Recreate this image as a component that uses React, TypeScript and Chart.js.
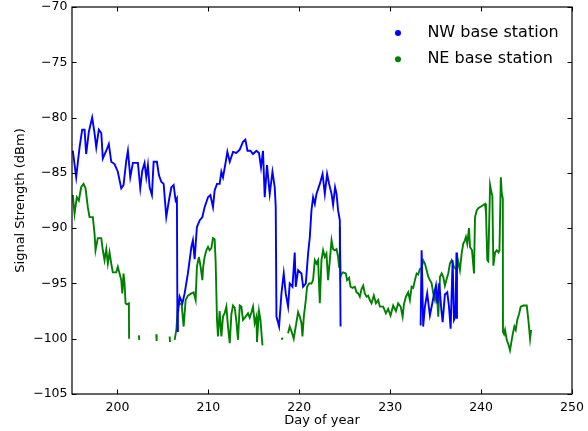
import React, { useEffect, useRef } from "react";
import { Chart, registerables } from "chart.js";
Chart.register(...registerables);

const xTicks = [200, 210, 220, 230, 240, 250];
const yTicks = [-105, -100, -95, -90, -85, -80, -75, -70];
const seriesLabels = ["NW base station", "NE base station"];
const seriesColors = ["#0000ff", "#008000"];

const nwDays = [
  195.09, 195.46, 195.83, 196.12, 196.38, 196.56, 196.85, 197.22, 197.48, 197.67,
  197.95, 198.22, 198.39, 198.77, 199.05, 199.32, 199.68, 200.04, 200.42, 200.67,
  200.97, 201.15, 201.41, 201.70, 202.25, 202.51, 202.73, 202.98, 203.17, 203.35,
  203.54, 203.79, 203.98, 204.34, 204.56, 204.82, 205.08, 205.37, 205.66, 205.93,
  206.18, 206.40, 206.54, 206.60, 206.65, 206.84, 207.14, 207.39, 207.75, 208.13,
  208.30, 208.49, 208.74, 209.04, 209.34, 209.59, 209.96, 210.22, 210.51, 210.69,
  210.95, 211.24, 211.43, 211.61, 211.87, 212.09, 212.35, 212.71, 213.08, 213.45,
  213.81, 214.07, 214.30, 214.63, 214.91, 215.29, 215.57, 215.79, 216.01, 216.20,
  216.45, 216.75, 217.05, 217.30, 217.41, 217.49, 217.78, 218.04, 218.29, 218.51,
  218.77, 218.95, 219.25, 219.50, 219.61, 219.87, 220.24, 220.42, 220.72, 220.97,
  221.16, 221.34, 221.52, 221.71, 221.89, 222.26, 222.56, 222.81, 223.06, 223.28,
  223.55, 223.72, 223.94, 224.10, 224.27, 224.46, 224.54, 229.0, 233.35, 233.46,
  233.63, 233.82, 234.07, 234.37, 234.63, 234.81, 235.03, 235.18, 235.40, 235.62,
  235.77, 236.02, 236.28, 236.46, 236.65, 236.87, 237.02, 237.18, 237.29, 237.35,
];
const nwValues = [
  -83.0, -85.4, -82.7, -81.1, -81.1, -83.3, -81.3, -80.0, -81.4, -82.7,
  -81.1, -81.4, -83.7, -83.0, -82.4, -84.0, -84.2, -84.9, -86.4, -86.1,
  -83.9, -83.0, -85.4, -84.1, -84.1, -86.4, -84.8, -84.1, -85.4, -84.3,
  -86.3, -87.0, -84.0, -84.0, -85.2, -85.8, -86.0, -89.0, -87.5, -86.3,
  -86.1, -87.5, -87.3, -99.3, -97.7, -96.2, -96.8, -95.9, -94.1, -91.7,
  -91.1, -92.8, -89.9, -89.3, -89.0, -88.1, -87.2, -87.0, -88.1, -86.6,
  -86.0, -86.0, -84.9, -85.4, -84.2, -83.1, -84.0, -83.1, -83.2, -82.9,
  -82.2, -82.0, -83.0, -83.0, -83.3, -83.0, -83.2, -84.5, -83.0, -87.2,
  -84.3, -86.9, -84.9, -86.3, -88.1, -98.0, -98.9, -95.9, -94.1, -95.9,
  -97.1, -95.0, -95.3, -92.2, -95.3, -93.8, -94.1, -95.3, -95.0, -92.3,
  -90.8, -88.4, -87.2, -87.8, -86.9, -86.0, -85.1, -86.9, -85.1, -86.0,
  -86.9, -87.9, -86.3, -86.9, -88.4, -89.3, -98.9, null, -98.8, -92.0,
  -98.9, -97.1, -95.9, -97.9, -96.8, -96.0, -95.2, -96.8, -95.0, -97.3,
  -98.5, -96.0, -95.8, -97.0, -99.1, -92.9, -98.3, -98.0, -92.2, -98.2,
];

const neDays = [
  195.09, 195.28, 195.53, 195.75, 196.01, 196.27, 196.49, 196.74, 196.93, 197.29,
  197.48, 197.59, 197.84, 198.22, 198.39, 198.58, 198.77, 198.94, 199.13, 199.32,
  199.49, 199.87, 200.04, 200.23, 200.42, 200.53, 200.67, 200.78, 200.89, 201.04,
  201.26, 201.28, 201.8, 202.36, 202.40, 203.3, 204.27, 204.31, 205.0, 205.74,
  205.78, 206.0, 206.29, 206.48, 206.65, 206.84, 207.06, 207.28, 207.50, 207.75,
  208.13, 208.38, 208.60, 208.74, 208.90, 208.96, 209.15, 209.34, 209.43, 209.59,
  209.78, 209.96, 210.14, 210.33, 210.51, 210.69, 210.80, 210.95, 211.06, 211.24,
  211.43, 211.61, 211.79, 211.98, 212.16, 212.35, 212.53, 212.71, 212.90, 213.08,
  213.26, 213.45, 213.63, 213.81, 214.11, 214.36, 214.55, 214.74, 214.91, 215.10,
  215.29, 215.35, 215.57, 215.73, 215.95, 217.0, 218.04, 218.18, 218.5, 218.77,
  218.95, 219.17, 219.39, 219.61, 219.87, 220.06, 220.24, 220.35, 220.50, 220.72,
  220.86, 221.08, 221.34, 221.52, 221.71, 221.89, 222.07, 222.26, 222.44, 222.62,
  222.81, 222.99, 223.17, 223.36, 223.55, 223.72, 223.91, 224.10, 224.27, 224.38,
  224.46, 224.54, 224.68, 224.82, 225.12, 225.26, 225.48, 225.64, 225.86, 226.11,
  226.30, 226.48, 226.66, 226.85, 227.03, 227.21, 227.40, 227.58, 227.76, 227.95,
  228.20, 228.43, 228.68, 228.87, 229.23, 229.53, 229.78, 230.04, 230.33, 230.63,
  230.88, 231.15, 231.37, 231.51, 231.73, 231.98, 232.17, 232.36, 232.53, 232.72,
  232.91, 233.08, 233.27, 233.46, 233.63, 233.82, 234.01, 234.19, 234.37, 234.56,
  234.74, 234.92, 235.11, 235.29, 235.48, 235.66, 235.84, 236.02, 236.21, 236.39,
  236.57, 236.76, 237.01, 237.31, 237.48, 237.67, 237.86, 238.04, 238.22, 238.33,
  238.48, 238.67, 238.78, 239.00, 239.22, 239.33, 239.52, 239.69, 240.07, 240.43,
  240.54, 240.68, 240.79, 240.99, 241.10, 241.24, 241.35, 241.54, 241.73, 241.91,
  242.02, 242.17, 242.28, 242.39, 242.41, 242.53, 242.64, 242.82, 243.00, 243.18,
  243.37, 243.48, 243.66, 243.81, 243.98, 244.20, 244.36, 244.65, 245.02, 245.20,
  245.39, 245.50,
];
const neValues = [
  -87.0, -88.7, -87.2, -87.5, -86.3, -86.0, -86.4, -88.1, -89.0, -89.0,
  -90.5, -92.0, -90.9, -90.9, -92.0, -92.9, -91.9, -93.2, -92.2, -93.2,
  -94.0, -94.0, -93.5, -94.1, -94.7, -95.9, -94.1, -95.0, -96.8, -96.9,
  -96.8, -100.0, null, -99.7, -100.1, null, -99.6, -100.2, null, -99.8,
  -100.3, null, -100.1, -99.2, -97.1, -96.8, -96.9, -98.9, -96.5, -96.1,
  -95.9, -95.8, -96.5, -93.5, -92.8, -92.6, -93.5, -94.7, -93.5, -92.6,
  -92.0, -91.7, -92.0, -91.8, -90.9, -91.0, -93.0, -98.3, -99.8, -97.5,
  -99.8, -98.0, -97.7, -97.1, -98.9, -100.4, -97.8, -97.0, -97.2, -98.4,
  -100.1, -97.0, -97.1, -98.3, -98.0, -97.7, -98.1, -97.6, -97.1, -98.6,
  -98.0, -100.3, -97.5, -98.3, -100.6, null, -100.1, -99.9, null, -99.5,
  -98.9, -99.4, -100.0, -98.9, -97.6, -98.0, -98.6, -99.8, -98.0, -96.5,
  -95.3, -95.0, -95.0, -94.7, -92.9, -93.2, -92.9, -96.8, -92.9, -92.0,
  -92.6, -92.3, -94.7, -92.9, -91.1, -91.9, -92.0, -91.9, -92.6, -93.5,
  -89.9, -94.4, -94.1, -94.0, -94.1, -94.7, -94.5, -95.3, -95.4, -95.3,
  -95.8, -95.9, -96.2, -95.5, -95.2, -95.9, -96.2, -96.1, -96.5, -96.8,
  -96.1, -96.8, -96.5, -97.1, -97.1, -97.7, -97.3, -97.9, -97.0, -97.5,
  -96.8, -97.1, -98.0, -96.9, -96.2, -95.8, -96.5, -95.3, -95.4, -94.7,
  -94.1, -94.2, -93.7, -93.6, -92.9, -93.2, -93.8, -94.4, -94.7, -95.0,
  -95.9, -96.5, -95.6, -98.0, -94.4, -94.1, -94.4, -95.2, -94.6, -94.1,
  -93.2, -92.9, -93.5, -93.8, -93.0, -93.8, -92.3, -91.4, -91.1, -90.8,
  -91.4, -90.0, -91.7, -92.0, -94.1, -89.0, -88.4, -88.2, -88.0, -87.8,
  -88.6, -92.9, -93.0, -86.1, -86.6, -87.1, -93.4, -92.2, -92.0, -92.2,
  -92.0, -85.4, -86.9, -87.3, -99.4, -99.6, -99.2, -100.1, -100.5, -101.05,
  -100.1, -99.6, -98.9, -99.2, -98.3, -97.7, -97.1, -97.0, -97.0, -98.3,
  -100.0, -99.2,
];

const FONT = "'DejaVu Sans', sans-serif";
const fmt = (v: number) => (v < 0 ? "\u2212" + Math.abs(v) : String(v));

const framePlugin = {
  id: "mplFrame",
  afterDatasetsDraw(chart: any) {
    const { ctx, chartArea: a, scales } = chart;
    ctx.save();
    ctx.strokeStyle = "#000";
    ctx.lineWidth = 1;
    const L = 4.5;
    ctx.beginPath();
    for (const v of xTicks) {
      const px = Math.round(scales.x.getPixelForValue(v)) + 0.5;
      ctx.moveTo(px, a.bottom);
      ctx.lineTo(px, a.bottom - L);
      ctx.moveTo(px, a.top);
      ctx.lineTo(px, a.top + L);
    }
    for (const v of yTicks) {
      const py = Math.round(scales.y.getPixelForValue(v)) + 0.5;
      ctx.moveTo(a.left, py);
      ctx.lineTo(a.left + L, py);
      ctx.moveTo(a.right, py);
      ctx.lineTo(a.right - L, py);
    }
    ctx.stroke();
    ctx.lineWidth = 1.2;
    ctx.strokeRect(a.left, a.top, a.right - a.left, a.bottom - a.top);
    // legend
    const ds = chart.data.datasets;
    ctx.font = `16px ${FONT}`;
    ctx.textBaseline = "middle";
    ctx.textAlign = "left";
    ds.forEach((d: any, i: number) => {
      const cy = a.top + 26 + i * 26.3;
      const cx = a.right - 174;
      ctx.fillStyle = d.borderColor;
      ctx.beginPath();
      ctx.arc(cx, cy, 3, 0, Math.PI * 2);
      ctx.fill();
      ctx.fillStyle = "#000";
      ctx.fillText(d.label, a.right - 144.6, cy);
    });
    ctx.restore();
  },
};

export default function App() {
  const ref = useRef<HTMLCanvasElement | null>(null);
  useEffect(() => {
    if (!ref.current) return;
    const mk = (days: number[], vals: (number | null)[]) =>
      days.map((d, i) => ({ x: d, y: vals[i] }));
    const chart = new Chart(ref.current, {
      type: "line",
      data: {
        datasets: [
          {
            label: seriesLabels[0],
            data: mk(nwDays, nwValues),
            borderColor: seriesColors[0],
            backgroundColor: seriesColors[0],
            borderWidth: 1.9,
            pointRadius: 0,
            tension: 0,
            spanGaps: false,
          },
          {
            label: seriesLabels[1],
            data: mk(neDays, neValues),
            borderColor: seriesColors[1],
            backgroundColor: seriesColors[1],
            borderWidth: 1.9,
            pointRadius: 0,
            tension: 0,
            spanGaps: false,
          },
        ],
      },
      options: {
        animation: false,
        responsive: false,
        layout: { padding: { top: 7, right: 16, bottom: 0, left: 0 } },
        plugins: { legend: { display: false }, tooltip: { enabled: false } },
        scales: {
          x: {
            type: "linear",
            min: 195,
            max: 250,
            grid: { display: false, drawTicks: false },
            border: { display: false },
            afterBuildTicks: (s: any) => {
              s.ticks = xTicks.map((v) => ({ value: v }));
            },
            afterFit: (s: any) => {
              s.height = 37;
              s.paddingLeft = 0;
              s.paddingRight = 0;
            },
            ticks: {
              callback: (v: any) => fmt(Number(v)),
              font: { family: FONT, size: 12.5 },
              color: "#000",
              padding: 6,
              maxRotation: 0,
              autoSkip: false,
            },
            title: {
              display: true,
              text: "Day of year",
              font: { family: FONT, size: 13 },
              color: "#000",
              padding: { top: 0, bottom: 3 },
            },
          },
          y: {
            type: "linear",
            min: -105,
            max: -70,
            grid: { display: false, drawTicks: false },
            border: { display: false },
            afterBuildTicks: (s: any) => {
              s.ticks = yTicks.map((v) => ({ value: v }));
            },
            afterFit: (s: any) => {
              s.width = 72;
              s.paddingTop = 0;
              s.paddingBottom = 0;
            },
            ticks: {
              callback: (v: any) => fmt(Number(v)),
              font: { family: FONT, size: 12.5 },
              color: "#000",
              padding: 4.5,
              autoSkip: false,
            },
            title: {
              display: true,
              text: "Signal Strength (dBm)",
              font: { family: FONT, size: 13 },
              color: "#000",
              padding: { top: 13, bottom: 0 },
            },
          },
        },
      },
      plugins: [framePlugin],
    } as any);
    return () => chart.destroy();
  }, []);
  return (
    <div style={{ position: "absolute", left: 0, top: 0, width: 588, height: 431, background: "#fff" }}>
      <canvas ref={ref} width={588} height={431} style={{ display: "block" }} />
    </div>
  );
}
